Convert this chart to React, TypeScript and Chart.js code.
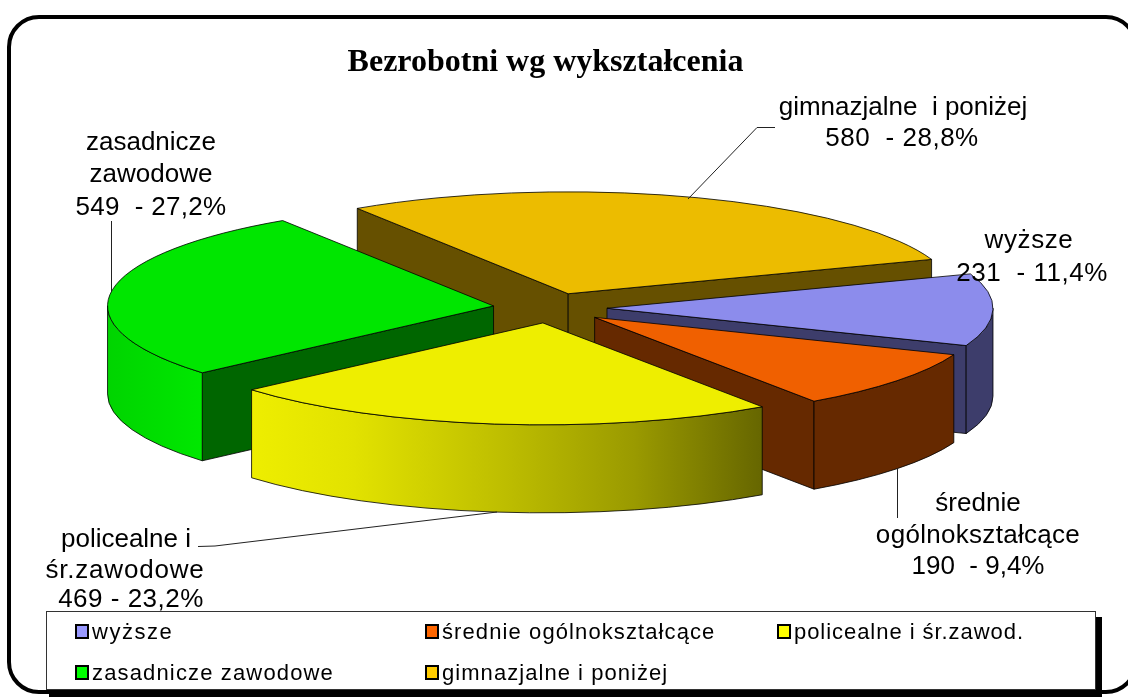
import React, { useEffect, useRef } from "react";
import { Chart, registerables } from "chart.js";

Chart.register(...registerables);

const categories = ["wyższe", "średnie ogólnokształcące", "policealne i śr.zawod.", "zasadnicze zawodowe", "gimnazjalne i poniżej"];
const values = [231, 190, 469, 549, 580];
const topColors = ["#8C8CEC", "#F06000", "#EEEE00", "#00E600", "#ECBC00"];
const sideColors = ["#3D3D6B", "#662900", "#666600", "#006600", "#665000"];
const legendColors = ["#9999FF", "#FF6600", "#FFFF00", "#00FF00", "#FFCC00"];
const titleText = "Bezrobotni wg wykształcenia";

const labelLines = [
  ["wyższe", "231  - 11,4%"],
  ["średnie", "ogólnokształcące", "190  - 9,4%"],
  ["policealne i", "śr.zawodowe", "469 - 23,2%"],
  ["zasadnicze", "zawodowe", "549  - 27,2%"],
  ["gimnazjalne  i poniżej", "580  - 28,8%"],
];

// label layout: centre x, baseline and tracking of each line
const labelCx = [
  [1029, 1032],
  [978, 978, 978],
  [126, 125, 131],
  [151, 151, 151],
  [903, 902],
];
const labelBase = [
  [248, 281],
  [511, 543, 574],
  [547, 578, 607],
  [150, 182, 215],
  [115, 146],
];
const labelTrack = [
  [0.6, 0.5],
  [0, 0.3, 0],
  [0, 0.8, 0.5],
  [0, 0, 0.3],
  [0, 0.5],
];
const leaders = [
  [],
  [[897.5, 468], [897.5, 518]],
  [[497, 512], [215, 546], [198, 546.5]],
  [[111.5, 221], [111.5, 292]],
  [[688, 199], [757, 127.5], [775, 127.5]],
];

const SQUASH = 0.264;
const EXPLODE = 57;
const DEPTH = 88;
const PAINT_ORDER = [4, 3, 0, 1, 2];
const LEGEND_SLOTS = [[76, 631, 1.5], [426, 631, 1.1], [778, 631, 0.95], [76, 672, 1.15], [426, 672, 1.05]];

function sliceGeom(arc: any) {
  const mid = (arc.startAngle + arc.endAngle) / 2;
  return {
    tx: arc.x + EXPLODE * Math.cos(mid),
    ty: arc.y + EXPLODE * SQUASH * Math.sin(mid),
    a: arc.startAngle,
    b: arc.endAngle,
    r: arc.outerRadius,
  };
}

const pie3d = {
  id: "pie3d",
  beforeDraw(chart: any) {
    const { ctx, width, height } = chart;
    ctx.save();
    ctx.fillStyle = "#FFFFFF";
    ctx.fillRect(0, 0, width, height);
    ctx.beginPath();
    ctx.roundRect(9, 17, 1127, 675, 30);
    ctx.lineWidth = 4;
    ctx.strokeStyle = "#000000";
    ctx.stroke();
    ctx.restore();
  },
  beforeDatasetDraw(chart: any) {
    const { ctx } = chart;
    const arcs = chart.getDatasetMeta(0).data;
    const K = SQUASH;
    const edge = "rgba(0,0,0,0.8)";

    // sides, back to front
    PAINT_ORDER.forEach((i) => {
      const g = sliceGeom(arcs[i]);
      const side = sideColors[i];
      const px = (t: number) => g.tx + g.r * Math.cos(t);
      const py = (t: number) => g.ty + K * g.r * Math.sin(t);
      ctx.save();
      ctx.lineWidth = 1;
      ctx.strokeStyle = edge;
      const radial = (t: number) => {
        ctx.beginPath();
        ctx.moveTo(g.tx, g.ty);
        ctx.lineTo(px(t), py(t));
        ctx.lineTo(px(t), py(t) + DEPTH);
        ctx.lineTo(g.tx, g.ty + DEPTH);
        ctx.closePath();
        ctx.fillStyle = side;
        ctx.fill();
        ctx.stroke();
      };
      if (Math.cos(g.a) < 0) radial(g.a);
      if (Math.cos(g.b) > 0) radial(g.b);
      // outer wall: the part of the rim in the front half
      const tau = Math.PI * 2;
      let s = g.a, e = g.b;
      while (s < -Math.PI / 2) { s += tau; e += tau; }
      const from = Math.max(s, 0);
      const to = Math.min(e, Math.PI);
      if (to > from) {
        ctx.beginPath();
        ctx.ellipse(g.tx, g.ty, g.r, K * g.r, 0, from, to);
        ctx.lineTo(px(to), py(to) + DEPTH);
        ctx.ellipse(g.tx, g.ty + DEPTH, g.r, K * g.r, 0, to, from, true);
        ctx.closePath();
        const x0 = px(to), x1 = px(from);
        if (i === 2) {
          const gr = ctx.createLinearGradient(x0, 0, x1, 0);
          gr.addColorStop(0, "#EEEE00");
          gr.addColorStop(0.2, "#E2E200");
          gr.addColorStop(0.5, "#BDBD00");
          gr.addColorStop(0.75, "#9A9A00");
          gr.addColorStop(1, "#666600");
          ctx.fillStyle = gr;
        } else if (i === 3) {
          const gr = ctx.createLinearGradient(x0, 0, x1, 0);
          gr.addColorStop(0, "#00D400");
          gr.addColorStop(1, "#00E800");
          ctx.fillStyle = gr;
        } else {
          ctx.fillStyle = side;
        }
        ctx.fill();
        ctx.stroke();
      }
      ctx.restore();
    });

    // top faces: the library's own arc elements, flattened and moved apart
    arcs.forEach((arc: any) => {
      const g = sliceGeom(arc);
      ctx.save();
      ctx.translate(g.tx, g.ty);
      ctx.scale(1, K);
      ctx.translate(-arc.x, -arc.y);
      arc.draw(ctx);
      ctx.restore();
      ctx.save();
      ctx.beginPath();
      ctx.moveTo(g.tx + g.r * Math.cos(g.a), g.ty + K * g.r * Math.sin(g.a));
      ctx.lineTo(g.tx, g.ty);
      ctx.lineTo(g.tx + g.r * Math.cos(g.b), g.ty + K * g.r * Math.sin(g.b));
      ctx.ellipse(g.tx, g.ty, g.r, K * g.r, 0, g.b, g.a, true);
      ctx.closePath();
      ctx.lineWidth = 1;
      ctx.strokeStyle = edge;
      ctx.stroke();
      ctx.restore();
    });
    return false;
  },
  afterDraw(chart: any) {
    const { ctx } = chart;
    ctx.save();
    // title
    ctx.fillStyle = "#000000";
    ctx.textAlign = "center";
    ctx.textBaseline = "alphabetic";
    ctx.font = "bold 32px 'Liberation Serif'";
    ctx.fillText(titleText, 545.5, 71);

    // leader lines
    ctx.strokeStyle = "#222222";
    ctx.lineWidth = 1;
    leaders.forEach((pts) => {
      if (!pts.length) return;
      ctx.beginPath();
      pts.forEach(([x, y], j) => (j ? ctx.lineTo(x, y) : ctx.moveTo(x, y)));
      ctx.stroke();
    });

    // data labels
    ctx.fillStyle = "#000000";
    ctx.font = "26px 'Liberation Sans'";
    labelLines.forEach((lines, i) => {
      lines.forEach((t, j) => {
        (ctx as any).letterSpacing = labelTrack[i][j] + "px";
        ctx.fillText(t, labelCx[i][j], labelBase[i][j]);
      });
    });
    (ctx as any).letterSpacing = "0px";

    // legend
    ctx.fillStyle = "#000000";
    ctx.fillRect(49, 617, 1053, 80);
    ctx.fillStyle = "#FFFFFF";
    ctx.fillRect(46, 611, 1050, 79);
    ctx.strokeStyle = "#333333";
    ctx.lineWidth = 1;
    ctx.strokeRect(46.5, 611.5, 1049, 78);
    ctx.textAlign = "left";
    ctx.font = "22px 'Liberation Sans'";
    categories.forEach((c, i) => {
      const [x, y, sp] = LEGEND_SLOTS[i];
      ctx.fillStyle = legendColors[i];
      ctx.fillRect(x, y - 6, 12, 13);
      ctx.strokeStyle = "#000000";
      ctx.lineWidth = 2;
      ctx.strokeRect(x, y - 6, 12, 13);
      ctx.fillStyle = "#000000";
      (ctx as any).letterSpacing = sp + "px";
      ctx.fillText(c, x + 16, y + 8);
      (ctx as any).letterSpacing = "0px";
    });
    ctx.restore();
  },
};

export default function App() {
  const ref = useRef<HTMLCanvasElement | null>(null);
  useEffect(() => {
    if (!ref.current) return;
    const chart = new Chart(ref.current, {
      type: "pie",
      data: {
        labels: categories,
        datasets: [{ data: values, backgroundColor: topColors, borderWidth: 0, hoverOffset: 0 }],
      },
      options: {
        responsive: false,
        animation: false,
        rotation: 70.3,
        radius: 386,
        layout: { padding: { left: 0, right: 28, top: 0, bottom: 81 } },
        plugins: { legend: { display: false }, tooltip: { enabled: false }, title: { display: false } },
      },
      plugins: [pie3d],
    } as any);
    return () => chart.destroy();
  }, []);
  return (
    <div style={{ position: "absolute", left: 0, top: 0, width: 1128, height: 697, overflow: "hidden" }}>
      <canvas ref={ref} width={1128} height={697} style={{ display: "block" }} />
    </div>
  );
}
